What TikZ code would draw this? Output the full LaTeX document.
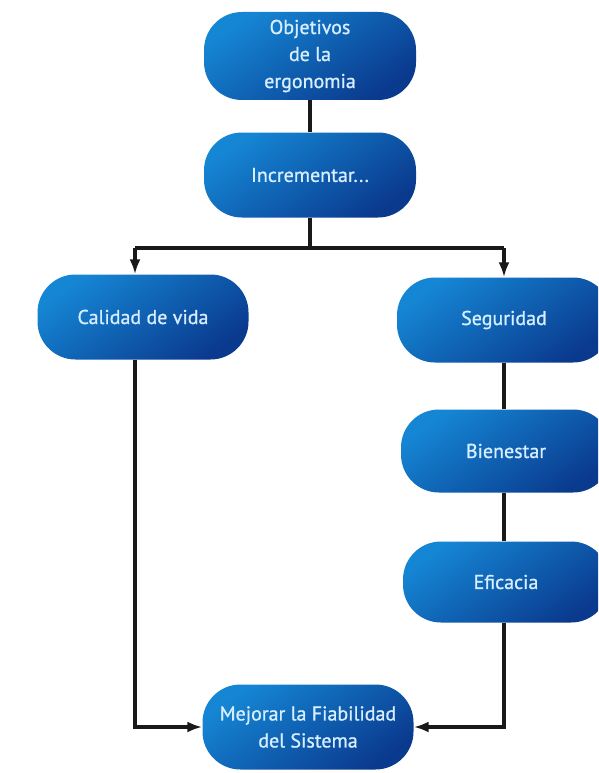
\documentclass[tikz,border=0pt]{standalone}
\usepackage{fontspec}
\setmainfont{PT Sans}
\newfontfamily\cajafont[FakeBold=1]{PT Sans}
\usetikzlibrary{arrows.meta}

\definecolor{azulclaro}{HTML}{1586D4}
\definecolor{azulmedio}{HTML}{0D79C9}
\definecolor{azuloscuro}{HTML}{0A3A8E}
\definecolor{textocaja}{HTML}{D6EEFF}

\begin{document}
\begin{tikzpicture}[x=1pt,y=-1pt,
        caja/.style={rectangle,rounded corners=38pt,
            top color=azulclaro,middle color=azulmedio,bottom color=azuloscuro,shading angle=35,
            text=textocaja,align=center,font=\cajafont\fontsize{20}{27}\selectfont,
            minimum width=212pt,minimum height=85pt,inner sep=0pt},
        linea/.style={line width=3.4pt,black!90},
        flecha/.style={linea,-{Latex[length=15pt,width=11pt]}}]
        \clip (0,0) rectangle (598,773);
        \fill[white] (0,0) rectangle (598,773);

        \coordinate (J) at (310,248);
        \coordinate (L) at (135,248);
        \coordinate (R) at (504,248);

        \node[caja,minimum height=88pt] (obj) at (310,56)  {Objetivos\\de la\\ergonomia};
        \node[caja]                     (inc) at (310,175) {Incrementar...};
        \node[caja,minimum width=211pt] (cal) at (143,317) {Calidad de vida};
        \node[caja,minimum width=214pt] (seg) at (504,320) {Seguridad};
        \node[caja,minimum width=210pt,minimum height=83pt] (bie) at (506,451) {Bienestar};
        \node[caja,minimum width=206pt,minimum height=81pt] (efi) at (506,582) {Eficacia};
        \node[caja,minimum width=211pt] (mej) at (308,727) {Mejorar la Fiabilidad\\del Sistema};

        \draw[linea] (obj.south) -- (inc.north);
        \draw[linea] (inc.south) -- (J);
        \draw[linea] (L) -- (R);
        \draw[flecha] (L) -- (L |- cal.north);
        \draw[flecha] (R) -- (R |- seg.north);
        \draw[linea] (R |- seg.south) -- (R |- bie.north);
        \draw[linea] (R |- bie.south) -- (R |- efi.north);
        \draw[flecha] (L |- cal.south) -- (L |- mej.west) -- (mej.west);
        \draw[flecha] (R |- efi.south) -- (R |- mej.east) -- (mej.east);
    \end{tikzpicture}
\end{document}
